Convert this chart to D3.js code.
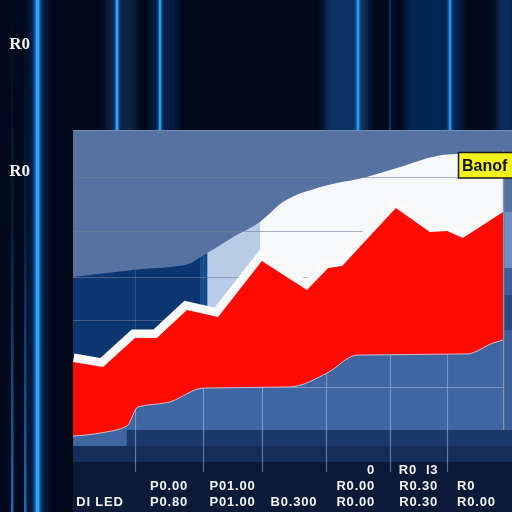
<!DOCTYPE html>
<html>
<head>
<meta charset="utf-8">
<script src="https://cdn.jsdelivr.net/npm/d3@7"></script>
<style>
  html, body { margin: 0; padding: 0; background: #010a1a; }
  svg { display: block; }
</style>
</head>
<body>
<svg id="chart" width="512" height="512"></svg>
<script>
// ---- data: x in months (0–12), values in index points ----
const upperX   = [0, 1.67, 3.13, 3.74, 4.47, 5.22, 5.86, 6.81, 8.2, 9.13, 10.16, 10.72, 12];
const upperV   = [56.3, 58.7, 60.3, 64.3, 69.7, 74.7, 81.3, 86, 89.7, 93, 96.7, 97.3, 97.7];

const redX     = [0, 0.84, 1.73, 2.34, 3.18, 4.05, 5.27, 6.53, 7.12, 7.51, 9.01, 9.96, 10.44, 10.88, 12];
const redV     = [28, 26.3, 36, 36, 45.3, 43, 61.7, 52, 59.3, 60, 79.3, 71.3, 71.7, 69.3, 78];

const blueX    = [0, 0.75, 1.51, 1.81, 2.71, 3.63, 6.06, 7.09, 7.93, 11.0, 11.72, 12];
const blueV    = [3.3, 4.3, 6.7, 13, 14.7, 19.3, 19.7, 24.3, 30.3, 30.7, 34.3, 35.3];

// shading of the upper envelope, by month range
const shadeFrom  = [0, 3.56, 3.75, 5.22];
const shadeTo    = [3.56, 3.75, 5.22, 12];
const shadeColor = ["#0b3672", "#0f4a8c", "#b8cce5", "#f7f8fa"];

const gridUpper = [89.7, 71.7, 56.3, 42];
const gridLower = [19.7];
const colEdges  = [0, 1.73, 3.63, 5.27, 7.06, 8.85, 10.44, 12];

const rowA = ["", "", "", "", "0", "R0  I3", ""];
const rowB = ["", "P0.00", "P01.00", "", "R0.00", "R0.30", "R0"];
const rowC = ["DI LED", "P0.80", "P01.00", "B0.300", "R0.00", "R0.30", "R0.00"];
const sideLabels = ["R0", "R0"];
const badgeText = "Banof";

// ---- layout ----
const W = 512, H = 512;
const svg = d3.select("#chart");
const defs = svg.append("defs");
const x = d3.scaleLinear().domain([0, 12]).range([73, 503]);
const y = d3.scaleLinear().domain([0, 100]).range([446, 146]);

const zip = (xs, vs) => xs.map((d, i) => ({ x: d, v: vs[i] }));
const upper = zip(upperX, upperV);
const red = zip(redX, redV);
const blue = zip(blueX, blueV);

// ---- backdrop with glowing vertical light streaks ----
svg.append("rect").attr("width", W).attr("height", H).attr("fill", "#010a1a");

const blurWide = defs.append("filter").attr("id", "blurWide")
  .attr("x", "-50%").attr("width", "200%");
blurWide.append("feGaussianBlur").attr("stdDeviation", 3.5);
const blurThin = defs.append("filter").attr("id", "blurThin")
  .attr("x", "-200%").attr("width", "500%");
blurThin.append("feGaussianBlur").attr("stdDeviation", 1.2);

const fadeUp = defs.append("linearGradient").attr("id", "fadeUp")
  .attr("x1", 0).attr("x2", 0).attr("y1", 0).attr("y2", 1);
fadeUp.append("stop").attr("offset", "0%").attr("stop-color", "#1a78d0").attr("stop-opacity", 0);
fadeUp.append("stop").attr("offset", "45%").attr("stop-color", "#1a78d0").attr("stop-opacity", 0.2);
fadeUp.append("stop").attr("offset", "100%").attr("stop-color", "#1a78d0").attr("stop-opacity", 0.9);

const glowBands = [
  { x0: 30, x1: 46, c: "#0a4690", o: 0.55 },
  { x0: 106, x1: 136, c: "#08264f", o: 0.85 },
  { x0: 150, x1: 178, c: "#072249", o: 0.85 },
  { x0: 325, x1: 368, c: "#083872", o: 0.85 },
  { x0: 405, x1: 462, c: "#072c5c", o: 0.85 },
  { x0: 497, x1: 515, c: "#083366", o: 0.85 }
];
svg.append("g").attr("filter", "url(#blurWide)")
  .selectAll("rect").data(glowBands).join("rect")
  .attr("x", d => d.x0).attr("width", d => d.x1 - d.x0)
  .attr("y", -10).attr("height", H + 20)
  .attr("fill", d => d.c).attr("opacity", d => d.o);

const streaks = [
  { x: 37.5, w: 3.5, c: "#2ea2ff", o: 1 },
  { x: 117, w: 2.5, c: "#35a8ff", o: 0.9 },
  { x: 160, w: 2.5, c: "#35a8ff", o: 0.8 },
  { x: 358, w: 2.5, c: "#35a8ff", o: 0.8 },
  { x: 390, w: 1.2, c: "#0d4d90", o: 0.8 },
  { x: 450, w: 2.5, c: "#35a8ff", o: 0.75 }
];
const sg = svg.append("g");
sg.selectAll("rect.glow").data(streaks).join("rect").attr("class", "glow")
  .attr("filter", "url(#blurThin)")
  .attr("x", d => d.x - d.w).attr("width", d => d.w * 2)
  .attr("y", -5).attr("height", H + 10)
  .attr("fill", d => d.c).attr("opacity", d => d.o * 0.5);
sg.selectAll("rect.core").data(streaks).join("rect").attr("class", "core")
  .attr("x", d => d.x - d.w / 2).attr("width", d => d.w)
  .attr("y", 0).attr("height", H)
  .attr("fill", d => d.c).attr("opacity", d => d.o);
sg.selectAll("rect.fade").data([12, 25]).join("rect").attr("class", "fade")
  .attr("x", d => d - 1).attr("width", 2.5)
  .attr("y", 0).attr("height", H)
  .attr("fill", "url(#fadeUp)");

// ---- chart panel ----
const panel = svg.append("g");
panel.append("rect").attr("x", 70).attr("y", 130).attr("width", 3).attr("height", H - 130)
  .attr("fill", "#000814").attr("opacity", 0.7);
panel.append("rect").attr("x", 73).attr("y", 130).attr("width", W - 73).attr("height", 300)
  .attr("fill", "#5672a0");
panel.append("line").attr("x1", 73).attr("x2", W).attr("y1", 130.5).attr("y2", 130.5)
  .attr("stroke", "#7390bd").attr("stroke-width", 1);
const baseBands = [
  { y0: 430, y1: 446, c: "#1c396b" },
  { y0: 446, y1: 462, c: "#142d5a" },
  { y0: 462, y1: 512, c: "#0b1a36" }
];
panel.selectAll("rect.base").data(baseBands).join("rect").attr("class", "base")
  .attr("x", 73).attr("width", W - 73)
  .attr("y", d => d.y0).attr("height", d => d.y1 - d.y0)
  .attr("fill", d => d.c);

// upper envelope, shaded by month range
const upperArea = d3.area().x(d => x(d.x)).y0(y(0)).y1(d => y(d.v)).curve(d3.curveMonotoneX);
defs.append("clipPath").attr("id", "upperClip")
  .append("path").attr("d", upperArea(upper));
panel.append("g").attr("clip-path", "url(#upperClip)")
  .selectAll("rect").data(shadeFrom).join("rect")
  .attr("x", (d, i) => x(d)).attr("width", (d, i) => x(shadeTo[i]) - x(d))
  .attr("y", 130).attr("height", 316)
  .attr("fill", (d, i) => shadeColor[i]);

// faint column lines inside the dark shaded band
panel.append("g").attr("clip-path", "url(#upperClip)")
  .selectAll("line").data(colEdges.slice(1, 3)).join("line")
  .attr("x1", d => Math.round(x(d)) + 0.5).attr("x2", d => Math.round(x(d)) + 0.5)
  .attr("y1", 250).attr("y2", 446)
  .attr("stroke", "rgba(90,130,190,0.35)").attr("stroke-width", 1);

// horizontal gridlines behind the series
panel.append("g").selectAll("line").data(gridUpper).join("line")
  .attr("x1", 73).attr("x2", 503)
  .attr("y1", d => Math.round(y(d)) + 0.5).attr("y2", d => Math.round(y(d)) + 0.5)
  .attr("stroke", "rgba(110,125,150,0.6)").attr("stroke-width", 1.2);

// right border of the plotting area
panel.append("line").attr("x1", 503.5).attr("x2", 503.5).attr("y1", 150).attr("y2", 430)
  .attr("stroke", "#8a95a8").attr("stroke-width", 1.5);

// white halo over the red series
defs.append("clipPath").attr("id", "plotClip")
  .append("rect").attr("x", 73).attr("y", 130).attr("width", 430).attr("height", 320);
const redLine = d3.line().x(d => x(d.x)).y(d => y(d.v));
panel.append("path").attr("clip-path", "url(#plotClip)")
  .attr("d", redLine(red)).attr("fill", "none")
  .attr("stroke", "#fafafa").attr("stroke-width", 17).attr("stroke-linejoin", "miter");

// red series
const redArea = d3.area().x(d => x(d.x)).y0(y(0)).y1(d => y(d.v));
panel.append("path").attr("d", redArea(red)).attr("fill", "#fe0a00");

// blue base series
const blueArea = d3.area().x(d => x(d.x)).y0(y(0)).y1(d => y(d.v)).curve(d3.curveMonotoneX);
panel.append("path").attr("d", blueArea(blue)).attr("fill", "#3f66a0");
panel.append("path")
  .attr("d", d3.line().x(d => x(d.x)).y(d => y(d.v)).curve(d3.curveMonotoneX)(blue))
  .attr("fill", "none").attr("stroke", "rgba(225,232,250,0.75)").attr("stroke-width", 1);
panel.append("rect").attr("x", x(1.5)).attr("y", 430).attr("width", 503 - x(1.5)).attr("height", 16)
  .attr("fill", "#1c396b");

// gridlines over the base series and footer bands
const lowerClip = defs.append("clipPath").attr("id", "lowerClip");
lowerClip.append("path").attr("d", blueArea(blue));
lowerClip.append("rect").attr("x", 73).attr("y", 430).attr("width", 440).attr("height", 42);
const lg = panel.append("g").attr("clip-path", "url(#lowerClip)");
lg.selectAll("line.v").data(colEdges.slice(1, -1)).join("line").attr("class", "v")
  .attr("x1", d => Math.round(x(d)) + 0.5).attr("x2", d => Math.round(x(d)) + 0.5)
  .attr("y1", 250).attr("y2", 472)
  .attr("stroke", "rgba(170,195,235,0.5)").attr("stroke-width", 1.2);
lg.selectAll("line.h").data(gridLower).join("line").attr("class", "h")
  .attr("x1", 73).attr("x2", 503)
  .attr("y1", d => Math.round(y(d)) + 0.5).attr("y2", d => Math.round(y(d)) + 0.5)
  .attr("stroke", "rgba(170,195,235,0.5)").attr("stroke-width", 1.2);

// right-hand edge strip
const edgeStrip = [
  { y0: 212, y1: 268, c: "#6f8fc0" },
  { y0: 268, y1: 295, c: "#3e5e95" },
  { y0: 295, y1: 330, c: "#2b4a80" },
  { y0: 330, y1: 430, c: "#3a5f9a" }
];
panel.selectAll("rect.edge").data(edgeStrip).join("rect").attr("class", "edge")
  .attr("x", 504.5).attr("width", 8)
  .attr("y", d => d.y0).attr("height", d => d.y1 - d.y0)
  .attr("fill", d => d.c);

// ---- badge ----
const badge = svg.append("g");
badge.append("rect").attr("x", 458.5).attr("y", 152.5).attr("width", 70).attr("height", 25.5)
  .attr("fill", "#f4f41c").attr("stroke", "#1a1a1a").attr("stroke-width", 1.5);
badge.append("text").attr("x", 462).attr("y", 171)
  .attr("font-family", "Liberation Sans, Arial, sans-serif").attr("font-weight", "bold")
  .attr("font-size", 16).attr("fill", "#111").text(badgeText);

// ---- side labels ----
svg.append("g").selectAll("text").data(sideLabels).join("text")
  .attr("x", 30).attr("y", (d, i) => [49, 176][i])
  .attr("text-anchor", "end")
  .attr("font-family", "Liberation Serif, serif").attr("font-weight", "bold")
  .attr("font-size", 17).attr("fill", "#f2f4f8").text(d => d);

// ---- footer table ----
const colAnchor = ["middle", "middle", "middle", "middle", "end", "middle", "start"];
function colX(i) {
  const a = x(colEdges[i]), b = x(colEdges[i + 1]);
  if (colAnchor[i] === "end") return b - 15;
  if (colAnchor[i] === "start") return a + 10;
  return i === 0 ? (a + b) / 2 - 4 : (a + b) / 2;
}
const rows = [rowA, rowB, rowC];
const rowY = [474, 490, 506];
const tg = svg.append("g")
  .attr("font-family", "Liberation Sans, Arial, sans-serif")
  .attr("font-weight", "bold").attr("font-size", 13)
  .attr("letter-spacing", 0.8).attr("fill", "#f2f4f8");
rows.forEach((row, r) => {
  tg.selectAll(null).data(row.map((t, i) => ({ t, i })).filter(d => d.t)).join("text")
    .attr("x", d => colX(d.i)).attr("y", rowY[r])
    .attr("text-anchor", d => colAnchor[d.i])
    .attr("xml:space", "preserve")
    .text(d => d.t);
});
</script>
</body>
</html>
